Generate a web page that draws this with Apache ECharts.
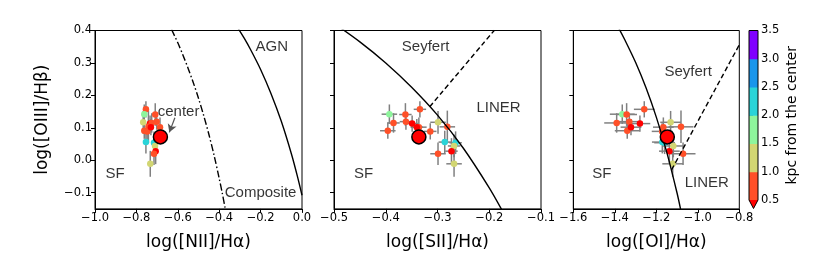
<!DOCTYPE html>
<html><head><meta charset="utf-8">
<script src="https://cdn.jsdelivr.net/npm/echarts@6/dist/echarts.min.js"></script>
<style>html,body{margin:0;padding:0;background:#fff}#c{width:830px;height:270px}</style>
</head><body><div id="c"></div>
<script>
// ---- data ----
const oiiiHb  = [0.157, 0.142, 0.141, 0.117, 0.119, 0.113, 0.115, 0.102, 0.103, 0.091, 0.089, 0.102, 0.056, 0.054, 0.044, 0.028, 0.020, -0.011];
const niiHa   = [-0.754,-0.762,-0.709,-0.767,-0.702,-0.734,-0.726,-0.686,-0.742,-0.762,-0.748,-0.730,-0.754,-0.715,-0.710,-0.707,-0.715,-0.733];
const siiHa   = [-0.334,-0.393,-0.362,-0.299,-0.361,-0.349,-0.385,-0.336,-0.281,-0.396,-0.314,-0.340,-0.286,-0.265,-0.268,-0.273,-0.299,-0.268];
const oiHa    = [-1.258,-1.364,-1.343,-1.131,-1.330,-1.279,-1.391,-1.166,-1.081,-1.340,-1.172,-1.322,-1.171,-1.160,-1.118,-1.137,-1.071,-1.121];
const distKpc = [0.8, 1.7, 0.8, 1.2, 0.8, 0.3, 0.8, 0.8, 0.8, 0.8, 0.8, 0.3, 2.2, 2.2, 1.2, 0.3, 0.8, 1.2];
const oiiiErr = [0.025,0.030,0.035,0.035,0.025,0.025,0.030,0.030,0.050,0.025,0.025,0.025,0.035,0.035,0.035,0.040,0.035,0.040];
const niiErr  = [0.010,0.010,0.010,0.012,0.012,0.010,0.010,0.010,0.010,0.010,0.010,0.010,0.012,0.012,0.010,0.010,0.010,0.012];
const siiErr  = [0.012,0.015,0.012,0.015,0.012,0.012,0.012,0.015,0.015,0.015,0.012,0.012,0.012,0.012,0.012,0.012,0.015,0.015];
const oiErr   = [0.050,0.060,0.050,0.050,0.050,0.050,0.060,0.050,0.060,0.060,0.050,0.050,0.050,0.050,0.050,0.050,0.060,0.050];
const centerPt = {nii: -0.684, sii: -0.336, oi: -1.147, oiii: 0.072};

// demarcation curves
const kauffmannNII = [[-0.63,0.403],[-0.60,0.362],[-0.575,0.324],[-0.55,0.283],[-0.525,0.239],[-0.50,0.191],[-0.475,0.138],[-0.45,0.080],[-0.425,0.016],[-0.40,-0.056],[-0.385,-0.102],[-0.37,-0.152]];
const kewleyNII = [[-0.31,0.408],[-0.28,0.377],[-0.25,0.343],[-0.20,0.280],[-0.15,0.206],[-0.10,0.120],[-0.05,0.017],[-0.02,-0.055],[0.0,-0.108]];
const kewleySII = [[-0.50,0.422],[-0.45,0.365],[-0.40,0.300],[-0.35,0.225],[-0.30,0.139],[-0.25,0.037],[-0.20,-0.085],[-0.175,-0.155]];
const seyLinerSII = [[-0.315,0.165],[-0.19,0.401]];
const kewleyOI = [[-1.38,0.406],[-1.35,0.369],[-1.30,0.302],[-1.25,0.224],[-1.20,0.133],[-1.15,0.026],[-1.10,-0.101],[-1.08,-0.160]];
const seyLinerOI = [[-1.126,-0.029],[-0.80,0.356]];

const yTicks = [-0.1, 0.0, 0.1, 0.2, 0.3, 0.4];
const cbBounds = [0.5, 1.0, 1.5, 2.0, 2.5, 3.0, 3.5];
const cbColors = ['#ff5028', '#d2d672', '#8ef59c', '#2ad4d8', '#1a96ec', '#8000ff'];
const cbUnder = '#ff0000';

const regionText1 = [[-0.146,0.349,'AGN'],[-0.903,-0.041,'SF'],[-0.200,-0.102,'Composite']];
const centerText = [[-0.697,0.148,'center']];
const regionText2 = [[-0.323,0.349,'Seyfert'],[-0.182,0.161,'LINER'],[-0.443,-0.041,'SF']];
const regionText3 = [[-1.046,0.272,'Seyfert'],[-0.957,-0.069,'LINER'],[-1.463,-0.041,'SF']];

// ---- helpers ----
function colorFor(d){
  if (d < cbBounds[0]) return cbUnder;
  for (let i=0;i<cbColors.length;i++) if (d < cbBounds[i+1]) return cbColors[i];
  return cbColors[cbColors.length-1];
}
const fmt = v => { const s = (Math.abs(v) < 1e-9 ? 0 : v).toFixed(1); return s.replace('-', '\u2212'); };
const tickFont = {fontFamily:'DejaVu Sans', fontSize:11.5, color:'#000'};
const nameFont = {fontFamily:'DejaVu Sans', fontSize:17, color:'#000'};

const grids = [
  {left:95, top:30.5, width:207, height:178.4},
  {left:334, top:30.5, width:207, height:178.4},
  {left:573.3, top:30.5, width:166, height:178.4},
  {left:749, top:30.5, width:9, height:169.5}
].map(g => Object.assign({show:true, borderColor:'#000', borderWidth:1, backgroundColor:'transparent', containLabel:false}, g));
grids[3].show = false;

function xAx(gi, min, max, interval, name){
  return {type:'value', gridIndex:gi, min, max, interval, name, nameLocation:'middle', nameGap:25,
    nameTextStyle:nameFont,
    axisLine:{show:true, onZero:false, lineStyle:{color:'#000', width:1}},
    axisTick:{show:true, length:4, lineStyle:{color:'#000', width:1}},
    axisLabel:Object.assign({margin:3, formatter:fmt, showMinLabel:true, showMaxLabel:true}, tickFont),
    splitLine:{show:false}};
}
function yAx(gi, showLabels){
  return {type:'value', gridIndex:gi, min:-0.15, max:0.4,
    name: showLabels ? 'log([OIII]/H\u03b2)' : '', nameLocation:'middle', nameGap:44, nameRotate:90,
    nameTextStyle:nameFont,
    axisLine:{show:true, onZero:false, lineStyle:{color:'#000', width:1}},
    axisTick:{show:true, length:4, customValues:yTicks, lineStyle:{color:'#000', width:1}},
    axisLabel:Object.assign({show:showLabels, margin:3, customValues:yTicks, formatter:fmt}, tickFont),
    splitLine:{show:false}};
}

function errSeries(gi, xs, xe){
  const data = xs.map((x,i)=>[x, oiiiHb[i], xe[i], oiiiErr[i]]);
  return {type:'custom', xAxisIndex:gi, yAxisIndex:gi, z:2, silent:true, data,
    renderItem:(params, api)=>{
      const x=api.value(0), y=api.value(1), ex=api.value(2), ey=api.value(3);
      const a=api.coord([x-ex,y]), b=api.coord([x+ex,y]), c=api.coord([x,y-ey]), d=api.coord([x,y+ey]);
      const st={stroke:'#808080', lineWidth:1.5};
      return {type:'group', children:[
        {type:'line', shape:{x1:a[0],y1:a[1],x2:b[0],y2:b[1]}, style:st},
        {type:'line', shape:{x1:c[0],y1:c[1],x2:d[0],y2:d[1]}, style:st}
      ]};
    }};
}
function ptSeries(gi, xs){
  return {type:'scatter', xAxisIndex:gi, yAxisIndex:gi, z:3, silent:true, symbolSize:6.5,
    data: xs.map((x,i)=>({value:[x, oiiiHb[i]], itemStyle:{color:colorFor(distKpc[i]), opacity:1}}))};
}
function centerSeries(gi, x){
  return {type:'scatter', xAxisIndex:gi, yAxisIndex:gi, z:5, silent:true, symbolSize:14,
    itemStyle:{color:'#ff0000', borderColor:'#000', borderWidth:1.5, opacity:1},
    data:[[x, centerPt.oiii]]};
}
function lineSeries(gi, pts, type){
  return {type:'line', xAxisIndex:gi, yAxisIndex:gi, z:4, silent:true, smooth:0.3, symbol:'none',
    clip:true, data:pts, lineStyle:{color:'#000', width:1.4, type:type}};
}
function textSeries(gi, arr, align, extra){
  return Object.assign({type:'scatter', xAxisIndex:gi, yAxisIndex:gi, z:6, silent:true, symbolSize:0,
    data:arr, label:{show:true, position:'inside', align:align||'center', verticalAlign:'middle',
      formatter:p=>p.value[2], fontFamily:'Liberation Sans', fontSize:15, color:'#000'}}, extra||{});
}

const cbData = cbColors.map((c,i)=>[cbBounds[i], cbBounds[i+1], i]);

const option = {
  animation:false,
  grid:grids,
  xAxis:[
    xAx(0,-1.0,0.0,0.2,'log([NII]/H\u03b1)'),
    xAx(1,-0.5,-0.1,0.1,'log([SII]/H\u03b1)'),
    xAx(2,-1.6,-0.8,0.2,'log([OI]/H\u03b1)'),
    {type:'value', gridIndex:3, min:0, max:1, show:false}
  ],
  yAxis:[
    yAx(0,true), yAx(1,false), yAx(2,false),
    {type:'value', gridIndex:3, min:0.5, max:3.5, interval:0.5, position:'right',
      name:'kpc from the center', nameLocation:'middle', nameRotate:90, nameGap:27,
      nameTextStyle:{fontFamily:'DejaVu Sans', fontSize:14, color:'#000'},
      axisLine:{show:false}, axisTick:{show:true, length:4, lineStyle:{color:'#000', width:1}},
      axisLabel:Object.assign({margin:3, formatter:v=>v.toFixed(1), showMinLabel:true, showMaxLabel:true}, tickFont),
      splitLine:{show:false}}
  ],
  series:[
    errSeries(0, niiHa, niiErr), ptSeries(0, niiHa), centerSeries(0, centerPt.nii),
    lineSeries(0, kauffmannNII, [7,2.5,1.5,2.5]), lineSeries(0, kewleyNII, 'solid'),
    textSeries(0, regionText1),
    textSeries(0, centerText, 'left', {markLine:{silent:true, symbol:['none','arrow'], symbolSize:[7,8],
      label:{show:false}, lineStyle:{color:'#555', width:1.2, type:'solid', curveness:0.25},
      data:[[{coord:[-0.614,0.131]},{coord:[-0.641,0.086]}]]}}),

    errSeries(1, siiHa, siiErr), ptSeries(1, siiHa), centerSeries(1, centerPt.sii),
    lineSeries(1, kewleySII, 'solid'), lineSeries(1, seyLinerSII, [5,3]),
    textSeries(1, regionText2),

    errSeries(2, oiHa, oiErr), ptSeries(2, oiHa), centerSeries(2, centerPt.oi),
    lineSeries(2, kewleyOI, 'solid'), lineSeries(2, seyLinerOI, [5,3]),
    textSeries(2, regionText3),

    {type:'custom', xAxisIndex:3, yAxisIndex:3, z:2, silent:true, clip:false, data:cbData,
      renderItem:(params, api)=>{
        const lo=api.value(0), hi=api.value(1), i=api.value(2);
        const p0=api.coord([0,hi]), p1=api.coord([1,lo]);
        return {type:'rect', shape:{x:p0[0], y:p0[1], width:p1[0]-p0[0], height:p1[1]-p0[1]+0.5},
          style:{fill:cbColors[i]}};
      }},
    {type:'custom', xAxisIndex:3, yAxisIndex:3, z:3, silent:true, clip:false, data:[[cbBounds[0], cbBounds[cbBounds.length-1]]],
      renderItem:(params, api)=>{
        const lo=api.value(0), hi=api.value(1);
        const tl=api.coord([0,hi]), tr=api.coord([1,hi]), br=api.coord([1,lo]), bl=api.coord([0,lo]);
        const tip=[(bl[0]+br[0])/2, bl[1]+8.5];
        return {type:'group', children:[
          {type:'polygon', shape:{points:[bl,br,tip]}, style:{fill:cbUnder}},
          {type:'polygon', shape:{points:[tl,tr,br,tip,bl]}, style:{fill:'none', stroke:'#000', lineWidth:1}}
        ]};
      }}
  ]
};
const chart = echarts.init(document.getElementById('c'), null, {renderer:'canvas'});
chart.setOption(option);
</script>
</body></html>
